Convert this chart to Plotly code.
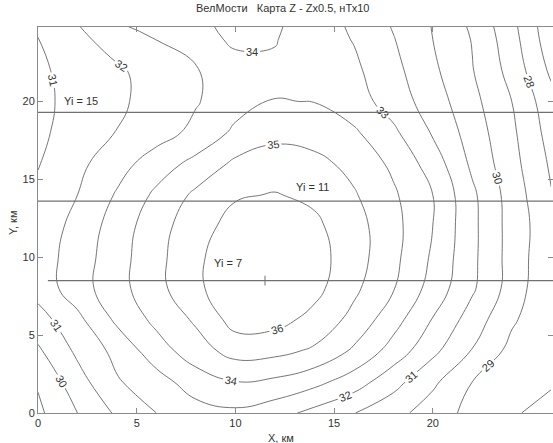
import plotly.graph_objects as go

# grid coordinates (km)
x_km = [0, 2, 4, 6, 8, 10, 12, 14, 16, 18, 20, 22, 24, 26]
y_km = [0, 2, 4, 6, 8, 10, 12, 14, 16, 18, 20, 22, 24, 25]

# Z values (rows follow y_km, columns follow x_km)
z_y0  = [28.8, 30.0, 31.15, 32.0, 32.6, 32.8, 32.4, 31.7, 31.03, 30.35, 29.5, 28.7, 28.05, 27.85]
z_y2  = [29.1, 30.6, 31.9, 32.6, 33.5, 33.98, 33.8, 33.3, 32.5, 31.35, 30.2, 29.0, 28.45, 28.05]
z_y4  = [29.85, 31.2, 32.3, 33.55, 34.55, 35.4, 35.3, 34.85, 33.85, 32.6, 31.25, 29.95, 28.7, 28.1]
z_y6  = [30.58, 31.75, 33.2, 34.25, 35.15, 36.4, 36.35, 35.7, 34.7, 33.4, 31.95, 30.55, 29.15, 28.2]
z_y8  = [31.4, 32.54, 33.64, 34.67, 35.82, 36.6, 36.85, 36.3, 35.21, 34.06, 32.6, 31.15, 29.57, 28.1]
z_y10 = [31.5, 32.47, 33.6, 34.7, 35.8, 36.65, 36.9, 36.4, 35.45, 34.27, 32.85, 31.23, 29.6, 28.2]
z_y12 = [31.4, 32.3, 33.47, 34.59, 35.6, 36.35, 36.55, 36.2, 35.4, 34.33, 33.0, 31.25, 29.6, 28.3]
z_y14 = [31.2, 32.0, 33.1, 34.2, 35.2, 35.9, 36.05, 35.8, 35.1, 34.15, 33.0, 31.2, 29.55, 28.05]
z_y16 = [30.95, 31.75, 32.6, 33.5, 34.3, 35.2, 35.5, 35.3, 34.7, 33.8, 32.55, 30.8, 29.35, 27.85]
z_y18 = [30.8, 31.44, 32.03, 32.58, 33.26, 34.2, 34.7, 34.55, 34.15, 33.2, 31.9, 30.55, 29.2, 27.6]
z_y20 = [30.75, 31.33, 31.83, 32.36, 32.92, 33.6, 34.03, 33.98, 33.45, 32.55, 31.5, 30.3, 29.0, 27.35]
z_y22 = [30.85, 31.32, 31.86, 32.4, 32.92, 33.6, 33.85, 33.6, 33.2, 32.3, 31.2, 30.05, 28.65, 26.8]
z_y24 = [30.98, 31.75, 32.45, 33.02, 33.55, 34.2, 34.05, 33.5, 32.95, 32.05, 31.0, 29.95, 28.4, 26.4]
z_y25 = [31.15, 32.0, 32.95, 33.4, 33.78, 34.3, 34.15, 33.5, 32.82, 31.9, 30.95, 29.8, 28.27, 26.3]

z_rows = [z_y0, z_y2, z_y4, z_y6, z_y8, z_y10, z_y12, z_y14, z_y16,
          z_y18, z_y20, z_y22, z_y24, z_y25]

# profile lines
profile_y = [19.3, 13.6, 8.5]
profile_x_start = [0, 0, 0.5]
profile_labels = ["Yi = 15", "Yi = 11", "Yi = 7"]
profile_label_x = [2.2, 13.9, 9.6]
profile_label_y = [20.0, 14.5, 9.6]

center_point = (11.5, 8.5)

x_max = 26.09
y_max = 24.78

font_family = "Liberation Sans, Arial, sans-serif"

fig = go.Figure()

fig.add_trace(go.Contour(
    x=x_km, y=y_km, z=z_rows,
    contours=dict(start=27, end=36, size=1, coloring="lines",
                  showlabels=True,
                  labelfont=dict(size=11, color="#333333", family=font_family)),
    line=dict(width=0.9, smoothing=1.3),
    colorscale=[[0, "#666666"], [1, "#666666"]],
    showscale=False,
    hoverinfo="skip",
))

for yv, xs in zip(profile_y, profile_x_start):
    fig.add_trace(go.Scatter(x=[xs, x_max], y=[yv, yv], mode="lines",
                             line=dict(color="#707070", width=1.2),
                             showlegend=False, hoverinfo="skip"))

fig.add_trace(go.Scatter(x=[center_point[0]], y=[center_point[1]], mode="markers",
                         marker=dict(symbol="line-ns", size=7,
                                     line=dict(color="#707070", width=1)),
                         showlegend=False, hoverinfo="skip"))

# dummy trace for right-side ticks
fig.add_trace(go.Scatter(x=[0], y=[0], yaxis="y2", mode="markers",
                         marker=dict(opacity=0), showlegend=False,
                         hoverinfo="skip"))

for lbl, lx, ly in zip(profile_labels, profile_label_x, profile_label_y):
    fig.add_annotation(x=lx, y=ly, text=lbl, showarrow=False, xanchor="center",
                       font=dict(size=11, color="#333333", family=font_family))

fig.add_annotation(xref="paper", yref="paper", x=0.474, y=1.0, yshift=19,
                   xanchor="center", yanchor="middle",
                   text="ВелМости   Карта Z - Zx0.5, нТх10", showarrow=False,
                   font=dict(size=11, color="#333333", family=font_family))
fig.add_annotation(xref="paper", yref="paper", x=0.472, y=-0.064,
                   xanchor="center", yanchor="middle",
                   text="X, км", showarrow=False,
                   font=dict(size=11, color="#333333", family=font_family))
fig.add_annotation(xref="paper", yref="paper", x=-0.05, y=0.493,
                   xanchor="center", yanchor="middle",
                   text="Y, км", showarrow=False, textangle=-90,
                   font=dict(size=11, color="#333333", family=font_family))

axis_common = dict(showgrid=False, zeroline=False, ticks="inside", ticklen=5,
                   tickcolor="#8a8a8a", linecolor="#8a8a8a", linewidth=1,
                   tickfont=dict(size=11, color="#333333", family=font_family))

fig.update_layout(
    width=553, height=443,
    margin=dict(l=38, r=0, t=27, b=30),
    paper_bgcolor="white", plot_bgcolor="white",
    showlegend=False,
    xaxis=dict(range=[0, x_max], tickvals=[0, 5, 10, 15, 20],
               showline=True, mirror="ticks", **axis_common),
    yaxis=dict(range=[0, y_max], tickvals=[0, 5, 10, 15, 20],
               showline=True, mirror=False, **axis_common),
    yaxis2=dict(range=[0, y_max], tickvals=[0, 5, 10, 15, 20], overlaying="y",
                side="right", showticklabels=False, showline=False,
                showgrid=False, zeroline=False, ticks="inside", ticklen=5,
                tickcolor="#8a8a8a"),
)

fig.write_html("out.html")
